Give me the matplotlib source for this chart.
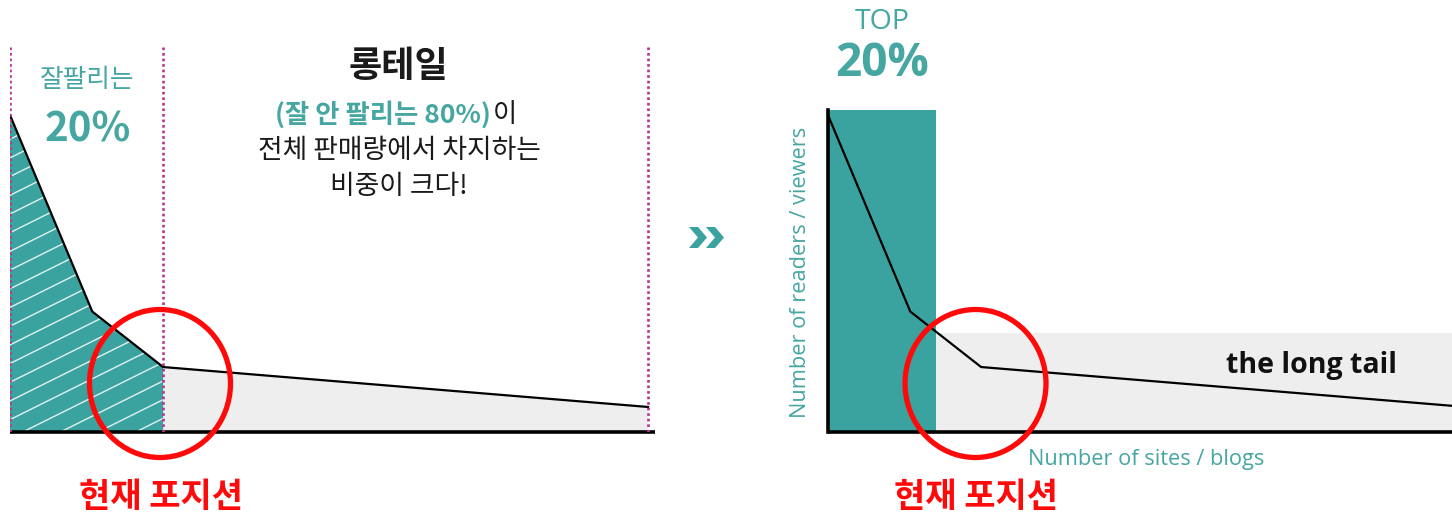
import matplotlib
matplotlib.use("Agg")
import matplotlib.pyplot as plt
from matplotlib.patches import Polygon, Ellipse, Rectangle
import numpy as np

# ---------------- data ----------------
rank_pct = [0.0, 12.9, 24.0, 100.0]      # product / site rank (share of catalogue, %)
sales = [100.0, 38.0, 20.5, 7.9]          # relative sales / readers
head_cutoff = 24.0                        # left chart: end of the "head"
top_bar_width = 16.9                      # right chart: TOP 20% block width
top_bar_height = 101.6                    # right chart: TOP 20% block height
tail_band_height = 31.2                   # right chart: long tail band height

TEAL = "#3aa39f"
TEAL_TXT = "#46a6a1"
GREY = "#eeeeee"
PINK = "#b8348c"
RED = "#ff0a0a"
KR = ["Noto Sans CJK KR", "DejaVu Sans"]
EN = ["Open Sans", "DejaVu Sans"]

W, H = 1452, 520
fig = plt.figure(figsize=(W / 100, H / 100), dpi=100)

def fig_rect(x0, y_top, x1, y_bot):
    return [x0 / W, 1 - y_bot / H, (x1 - x0) / W, (y_bot - y_top) / H]

# ---------------- left chart ----------------
axL = fig.add_axes(fig_rect(10, 40, 655, 432))
axL.set_xlim(0, 101.1)
axL.set_ylim(0, 123.7)
axL.axis("off")

x = np.array(rank_pct)
y = np.array(sales)
head_y = np.interp(head_cutoff, x, y)
head_x = [xx for xx in x if xx <= head_cutoff]
head_poly_x = [0] + head_x + [head_cutoff, head_cutoff]
head_poly_y = [0] + [np.interp(v, x, y) for v in head_x] + [head_y, 0]
head_patch = Polygon(list(zip(head_poly_x, head_poly_y)), closed=True,
                     facecolor=TEAL, edgecolor="none", zorder=2)
axL.add_patch(head_patch)
tail_x = [head_cutoff] + [xx for xx in x if xx > head_cutoff]
tail_poly = [(head_cutoff, 0)] + [(v, np.interp(v, x, y)) for v in tail_x] + [(x[-1], 0)]
axL.add_patch(Polygon(tail_poly, closed=True, facecolor=GREY, edgecolor="none", zorder=1))

# white diagonal hatch in the head
for c in np.arange(-120, 140, 5.9):
    ln, = axL.plot([-5, 40], [-5 + c, 40 + c], color="white", lw=1.0, alpha=0.85, zorder=3)
    ln.set_clip_path(head_patch)

axL.plot(x, y, color="black", lw=1.6, zorder=4)
axL.plot([0, 101.1], [0, 0], color="black", lw=2.6, zorder=5, clip_on=False,
         solid_capstyle="butt")
for xv in [0, head_cutoff, x[-1]]:
    axL.plot([xv, xv], [0, 121.5], color=PINK, lw=1.9, ls=(0, (1.0, 1.1)), zorder=6)

# ---------------- right chart ----------------
axR = fig.add_axes(fig_rect(828, 40, 1452, 432))
axR.set_xlim(0, 97.8)
axR.set_ylim(0, 123.7)
axR.axis("off")
axR.add_patch(Rectangle((0, 0), top_bar_width, top_bar_height, facecolor=TEAL,
                        edgecolor="none", zorder=2))
axR.add_patch(Rectangle((top_bar_width, 0), 100 - top_bar_width, tail_band_height,
                        facecolor=GREY, edgecolor="none", zorder=1))
axR.plot(x, y, color="black", lw=1.6, zorder=4)
axR.plot([0, 100], [0, 0], color="black", lw=2.6, zorder=5, clip_on=False,
         solid_capstyle="butt")
axR.plot([0, 0], [0, top_bar_height], color="black", lw=2.6, zorder=5, clip_on=False)

# ---------------- overlay: annotations ----------------
ov = fig.add_axes([0, 0, 1, 1], zorder=10)
ov.set_xlim(0, W)
ov.set_ylim(H, 0)
ov.axis("off")
ov.patch.set_alpha(0)

# left texts
ov.text(87, 80, "잘팔리는", family=KR, fontsize=18.5, color=TEAL_TXT, ha="center", va="center")
ov.text(88, 130, "20%", family=KR, fontsize=29, fontweight="bold", color=TEAL_TXT,
        ha="center", va="center")
ov.text(398, 66, "롱테일", family=KR, fontsize=26, fontweight="bold", color="#1a1a1a",
        ha="center", va="center")
ov.text(491, 115, "(잘 안 팔리는 80%)", family=KR, fontsize=19, fontweight="bold",
        color=TEAL_TXT, ha="right", va="center")
ov.text(493, 115, "이", family=KR, fontsize=19, color="#1a1a1a", ha="left", va="center")
ov.text(399, 151, "전체 판매량에서 차지하는", family=KR, fontsize=19.3, color="#1a1a1a",
        ha="center", va="center")
ov.text(399, 187, "비중이 크다!", family=KR, fontsize=19.3, color="#1a1a1a",
        ha="center", va="center")

# chevrons
for dx in [0, 17]:
    pts = [(689 + dx, 227), (698 + dx, 227), (707 + dx, 237.5), (698 + dx, 248),
           (689 + dx, 248), (698 + dx, 237.5)]
    ov.add_patch(Polygon(pts, closed=True, facecolor=TEAL, edgecolor="none"))

# right texts
ov.text(882, 22, "TOP", family=EN, fontsize=20.5, color=TEAL_TXT, ha="center", va="center")
ov.text(882, 63, "20%", family=EN, fontsize=33, fontweight="bold", color=TEAL_TXT,
        ha="center", va="center")
ov.text(801, 272, "Number of readers / viewers", family=EN, fontsize=15.7, color=TEAL_TXT,
        ha="center", va="center", rotation=90)
ov.text(1146, 460, "Number of sites / blogs", family=EN, fontsize=15.7, color=TEAL_TXT,
        ha="center", va="center")
ov.text(1311, 366, "the long tail", family=EN, fontsize=20.5, fontweight="bold",
        color="#111111", ha="center", va="center")

# red circles and labels
for cx in [160, 975.5]:
    ov.add_patch(Ellipse((cx, 383.5), 141, 148, fill=False, edgecolor=RED, lw=3.8))
    ov.text(cx + 1, 497, "현재 포지션", family=KR, fontsize=24.5, fontweight="black",
            color=RED, ha="center", va="center")

fig.savefig("out.png", dpi=100, facecolor="white")
